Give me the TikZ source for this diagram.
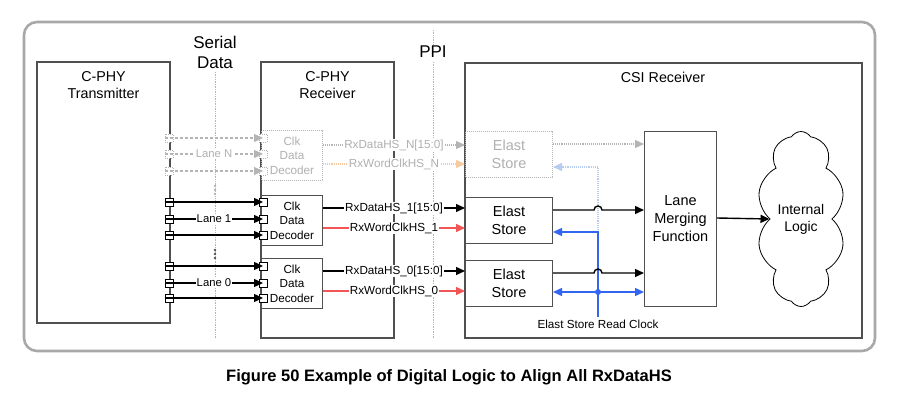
\documentclass[tikz,border=0pt]{standalone}
\usepackage{fontspec}
\setmainfont{Liberation Sans}
\usetikzlibrary{arrows.meta,shapes.symbols}
\definecolor{boxc}{HTML}{505050}
\definecolor{frame}{HTML}{A8A8A8}
\definecolor{ghost}{HTML}{B4B4B4}
\definecolor{ghosttext}{HTML}{B0B0B0}
\definecolor{redc}{HTML}{F25555}
\definecolor{bluec}{HTML}{3366F0}
\definecolor{lblue}{HTML}{B8CCF0}
\definecolor{lorange}{HTML}{F8C8A0}
\tikzset{
  x=1pt,y=-1pt,
  blk/.style={draw=boxc,line width=1.1pt},
  pin/.style={draw=black,fill=white,line width=1pt,minimum width=8pt,minimum height=8pt,inner sep=0pt,outer sep=0pt,rectangle},
  gpin/.style={draw=ghost,fill=white,densely dotted,line width=1pt,minimum width=8pt,minimum height=8pt,inner sep=0pt,outer sep=0pt,rectangle},
  tip/.style={-{Triangle[length=9pt,width=8pt]}},
  wire/.style={tip,line width=1.4pt},
  gwire/.style={tip,line width=1.2pt,draw=ghost,densely dashed},
  lbl/.style={font=\fontsize{11.3}{13}\selectfont,fill=white,inner sep=1pt},
  sig/.style={font=\fontsize{11.7}{14}\selectfont,fill=white,inner sep=1pt},
  cdd/.style={draw=boxc,line width=1pt,minimum width=61pt,minimum height=50pt,anchor=north west,inner sep=0pt,align=center,font=\fontsize{11.7}{14.5}\selectfont},
  es/.style={draw=boxc,line width=1pt,minimum width=87pt,minimum height=46pt,anchor=north west,inner sep=0pt,align=center,font=\fontsize{14.5}{18}\selectfont},
}
\begin{document}
\begin{tikzpicture}
\useasboundingbox (0,0) rectangle (898,402);
% outer frame
\draw[frame,line width=2.6pt,rounded corners=13pt] (24,22) rectangle (875,351);
% dotted guide lines
\draw[ghost,densely dotted,line width=0.7pt] (215,72) -- (215,338);
\draw[ghost,densely dotted,line width=0.7pt] (433,30) -- (433,45);
\draw[ghost,densely dotted,line width=0.7pt] (433,62) -- (433,338);
\node[font=\fontsize{17}{20}\selectfont,align=center] (serial) at (215,52) {Serial\\Data};
\node[font=\fontsize{17}{20}\selectfont] (ppi) at (433,52) {PPI};
% main blocks
\draw[blk] (37,62) rectangle (170,323);
\draw[blk] (261,62) rectangle (394,338);
\draw[blk] (465,63) rectangle (862,338);
\node[font=\fontsize{14.3}{17}\selectfont,align=center] (txt) at (103.5,85) {C-PHY\\Transmitter};
\node[font=\fontsize{14.3}{17}\selectfont,align=center] (rxt) at (327.5,85) {C-PHY\\Receiver};
\node[font=\fontsize{14.3}{17}\selectfont] (csit) at (663,77) {CSI Receiver};
% CDD boxes
\node[cdd,draw=ghost,densely dotted,text=ghosttext,fill=white] (cddN) at (261,130) {Clk\\Data\\Decoder};
\node[cdd,fill=white] (cdd1) at (261,195) {Clk\\Data\\Decoder};
\node[cdd,fill=white] (cdd0) at (261,258) {Clk\\Data\\Decoder};
% Elast stores
\node[es,draw=ghost,densely dotted,text=ghosttext,fill=white] (esN) at (465,131) {Elast\\Store};
\node[es,fill=white] (es1) at (465,197) {Elast\\Store};
\node[es,fill=white] (es0) at (465,260) {Elast\\Store};
% LMF
\node[draw=boxc,line width=1pt,minimum width=72pt,minimum height=175pt,anchor=north west,inner sep=0pt,align=center,font=\fontsize{14.5}{18}\selectfont] (lmf) at (644,131) {Lane\\Merging\\Function};
% cloud
\node[cloud,draw=black,line width=0.8pt,cloud puffs=10,cloud puff arc=115,aspect=0.5,minimum width=88pt,minimum height=175pt,inner sep=0pt,align=center,font=\fontsize{14}{17}\selectfont] (cloud) at (801,219) {Internal\\Logic};
\draw[wire] (lmf.east |- 0,218) coordinate (lmfo) -- (cloud.west);
% pins
\foreach \n/\y in {N1/138,N2/154,N3/171}{
  \node[gpin] (t\n) at (169,\y) {};
  \node[gpin] (r\n) at (263,\y) {};
}
\foreach \n/\y in {a1/202,a2/219,a3/235,b1/266,b2/283,b3/298}{
  \node[pin] (t\n) at (169,\y) {};
  \node[pin] (r\n) at (263,\y) {};
}
% lane wires
\draw[gwire] (tN1.west) -- (rN1.center);
\draw[gwire] (tN2.west) -- node[lbl,text=ghosttext] (laneN) {Lane N} (rN2.center);
\draw[gwire] (tN3.west) -- (rN3.center);
\draw[wire] (ta1.west) -- (ra1.center);
\draw[wire] (ta2.west) -- node[lbl] (lane1) {Lane 1} (ra2.center);
\draw[wire] (ta3.west) -- (ra3.center);
\draw[wire] (tb1.west) -- (rb1.center);
\draw[wire] (tb2.west) -- node[lbl] (lane0) {Lane 0} (rb2.center);
\draw[wire] (tb3.west) -- (rb3.center);
% vertical dots
\foreach \y in {186,190,194}{\fill[ghost] (215,\y) circle (1.4pt);}
\foreach \y in {250,254,258}{\fill[boxc] (215,\y) circle (1.4pt);}
% PPI signals
\draw[tip,line width=1.1pt,ghost,densely dotted] (cddN.east |- 0,145) -- node[sig,text=ghosttext] (dN) {RxDataHS\_N[15:0]} (esN.west |- 0,145);
\draw[tip,line width=1.1pt,lorange,densely dotted] (cddN.east |- 0,164) -- node[sig,text=ghosttext] (cN) {RxWordClkHS\_N} (esN.west |- 0,164);
\draw[wire] (cdd1.east |- 0,208) -- node[sig] (d1) {RxDataHS\_1[15:0]} (es1.west |- 0,208);
\draw[wire,redc] (cdd1.east |- 0,228) -- node[sig,text=black] (c1) {RxWordClkHS\_1} (es1.west |- 0,228);
\draw[wire] (cdd0.east |- 0,271) -- node[sig] (d0) {RxDataHS\_0[15:0]} (es0.west |- 0,271);
\draw[wire,redc] (cdd0.east |- 0,291) -- node[sig,text=black] (c0) {RxWordClkHS\_0} (es0.west |- 0,291);
% read clock
\coordinate (rc) at (598,317);
\draw[tip,line width=1.1pt,lblue,densely dotted] (598,232) -- (598,167) -- (esN.east |- 0,167);
\draw[wire,bluec] (rc) -- (598,232) -- (es1.east |- 0,232);
\draw[wire,bluec] (598,292) -- (es0.east |- 0,292);
\draw[wire,bluec] (598,292) -- (lmf.west |- 0,292);
\fill[bluec] (598,292) circle (3pt);
\node[font=\fontsize{11.7}{14}\selectfont,anchor=north] (rclbl) at (598,316) {Elast Store Read Clock};
% elast to LMF
\draw[tip,line width=1.1pt,ghost,densely dotted] (esN.east |- 0,144) -- (lmf.west |- 0,144);
\draw[wire] (es1.east |- 0,210) -- (594,210) arc[start angle=180,end angle=0,radius=4pt] -- (lmf.west |- 0,210);
\draw[wire] (es0.east |- 0,273) -- (594,273) arc[start angle=180,end angle=0,radius=4pt] -- (lmf.west |- 0,273);
% caption
\node[font=\bfseries\fontsize{16.5}{20}\selectfont] (cap) at (449,377) {Figure 50 Example of Digital Logic to Align All RxDataHS};
\end{tikzpicture}
\end{document}
